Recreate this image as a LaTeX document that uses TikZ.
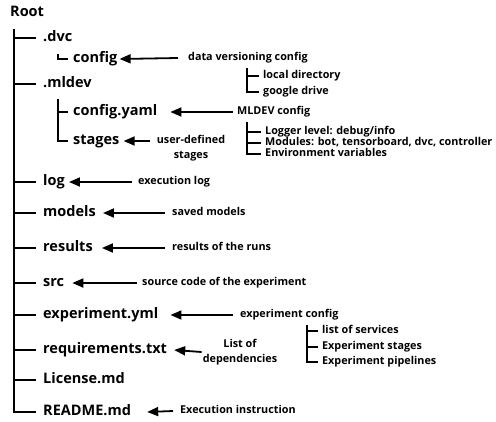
\documentclass[tikz,border=0pt]{standalone}
\usepackage{fontspec}
\setmainfont{Open Sans}
\usetikzlibrary{arrows.meta}
\tikzset{
	file/.style={anchor=west, inner sep=0pt, text height=10pt, text depth=3pt, font=\bfseries\fontsize{14.5}{16}\selectfont},
	note/.style={anchor=west, inner sep=0pt, text height=7.5pt, text depth=2pt, font=\bfseries\fontsize{10.8}{11}\selectfont},
	twoline/.style={inner sep=0pt, align=center, font=\bfseries\fontsize{10.8}{15}\selectfont},
	tree/.style={line width=2pt},
	sub/.style={line width=1.8pt},
	arr/.style={line width=1.8pt, -{Triangle[length=11pt,width=9pt]}}
}
\begin{document}
\begin{tikzpicture}[x=1pt, y=-1pt]
	\useasboundingbox (0,0) rectangle (496,421);
	\node[file] (root) at (10,13) {Root};
	\coordinate (trunk) at (14,29);
	% top level of the tree
	\foreach \nm/\y/\txt in {dvc/38/.dvc, mldev/84/.mldev, log/182/log, models/213/models, results/248/results, src/283/src, expyml/315/experiment.yml, req/350/requirements.txt, lic/380/License.md, readme/412/README.md}{
		\node[file] (\nm) at (43,\y) {\txt};
		\draw[tree] (trunk |- \nm.west) -- ([xshift=-7pt]\nm.west);}
	\draw[tree] (trunk) |- ([xshift=-7pt]readme.west);
	% inner folders
	\node[file] (cfg) at (73,59) {config};
	\draw[tree] ([xshift=-15pt,yshift=5pt]cfg.west) |- ([xshift=-5pt]cfg.west);
	\node[file] (yaml) at (73,112) {config.yaml};
	\node[file] (stages) at (73,141) {stages};
	\draw[tree] ([xshift=-15pt,yshift=13pt]yaml.west) |- ([xshift=-5pt]stages.west);
	\draw[tree] ([xshift=-15pt]yaml.west) -- ([xshift=-5pt]yaml.west);
	% notes
	\node[note] (dvclab) at (188,58) {data versioning config};
	\node[note] (loc) at (263,76) {local directory};
	\node[note] (gdr) at (263,92) {google drive};
	\draw[sub] ([xshift=-16pt,yshift=8pt]loc.west) |- ([xshift=-4pt]gdr.west);
	\draw[sub] ([xshift=-16pt]loc.west) -- ([xshift=-4pt]loc.west);
	\node[note] (mlcfg) at (237,112) {MLDEV config};
	\node[note] (lg) at (265,132) {Logger level: debug/info};
	\node[note] (mods) at (265,143) {Modules: bot, tensorboard, dvc, controller};
	\node[note] (env) at (265,154) {Environment variables};
	\draw[sub] ([xshift=-18pt,yshift=10pt]lg.west) |- ([xshift=-4pt]env.west);
	\foreach \nm in {lg, mods}{
		\draw[sub] ([xshift=-18pt]\nm.west) -- ([xshift=-4pt]\nm.west);}
	\node[twoline, anchor=north] (usr) at (191,135) {user-defined\\stages};
	\node[note] (logl) at (138,182) {execution log};
	\node[note] (modl) at (172,213) {saved models};
	\node[note] (resl) at (172,248) {results of the runs};
	\node[note] (srcl) at (142,283) {source code of the experiment};
	\node[note] (expl) at (240,315) {experiment config};
	\node[note] (svc) at (322,331) {list of services};
	\node[note] (stg) at (322,347) {Experiment stages};
	\node[note] (ppl) at (322,362) {Experiment pipelines};
	\draw[sub] ([xshift=-15pt,yshift=6pt]svc.west) |- ([xshift=-4pt]ppl.west);
	\foreach \nm in {svc, stg}{
		\draw[sub] ([xshift=-15pt]\nm.west) -- ([xshift=-4pt]\nm.west);}
	\node[twoline] (reql) at (240,352) {List of\\dependencies};
	\node[note] (rdl) at (180,411) {Execution instruction};
	% arrows
	\foreach \lab/\nm/\a/\b in {dvclab/cfg/10/2, mlcfg/yaml/4/13, logl/log/6/4, modl/models/7/7, resl/results/7/9, srcl/src/5/8, expl/expyml/7/12, reql/req/1/7, rdl/readme/7/16}{
		\draw[arr] ([xshift=-\a pt]\lab.west) -- ([xshift=\b pt]\nm.east);}
	\draw[arr] (stages.east -| usr.west) ++(-7,0) -- ([xshift=4pt]stages.east);
\end{tikzpicture}
\end{document}
